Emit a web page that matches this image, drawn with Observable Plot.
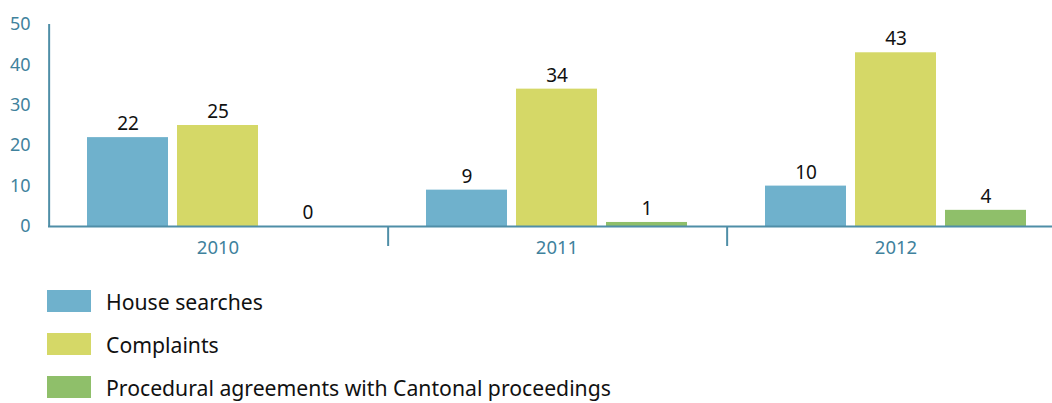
<!DOCTYPE html>
<html>
<head>
<meta charset="utf-8">
<script src="https://cdn.jsdelivr.net/npm/d3@7"></script>
<script src="https://cdn.jsdelivr.net/npm/@observablehq/plot@0.6"></script>
<style>
  body { margin: 0; background: #fff; font-family: "Noto Sans", sans-serif; }
  #wrap { width: 1052px; overflow: hidden; }
  #chart svg { max-width: none !important; width: 1065px !important; height: 266px !important; display: block; }
  #legend { margin-top: 24px; margin-left: 47px; }
  .item { display: flex; align-items: center; height: 22px; margin-bottom: 21px; font-size: 21.2px; color: #111; }
  .sw { width: 44px; height: 22px; margin-right: 15px; flex: none; }
</style>
</head>
<body>
<div id="wrap"><div id="chart"></div></div>
<div id="legend"></div>
<script>
const years = ["2010", "2011", "2012"];
const series = ["House searches", "Complaints", "Procedural agreements with Cantonal proceedings"];
const houseSearches = [22, 9, 10];
const complaints = [25, 34, 43];
const procedural = [0, 1, 4];
const colors = ["#6fb1cc", "#d5d867", "#8fbf6a"];
const yTicks = [0, 10, 20, 30, 40, 50];

const seriesValues = [houseSearches, complaints, procedural];
const data = [];
years.forEach((yr, i) => series.forEach((s, j) => data.push({year: yr, series: s, value: seriesValues[j][i]})));

const axisColor = "#4f8ea7";
const textColor = "#3f829d";
const W = 1065, mL = 48, mR = 0, mT = 24, mB = 40, H = 266;
const pi = 0.1, po = 0.42;
const facetW = (W - mL - mR) / years.length;
const step = facetW / (series.length - pi + 2 * po);
const bw = step * (1 - pi);
const edgeOff = po * step + bw / 2;
const plotH = H - mT - mB;

const chart = Plot.plot({
  width: W, height: H,
  marginLeft: mL, marginRight: mR, marginTop: mT, marginBottom: mB,
  style: {fontFamily: "Noto Sans, sans-serif", background: "#fff"},
  fx: {domain: years, padding: 0, axis: null},
  x: {domain: series, paddingInner: pi, paddingOuter: po, axis: null},
  y: {domain: [0, 50], axis: null},
  color: {domain: series, range: colors},
  marks: [
    Plot.barY(data, {fx: "year", x: "series", y: "value", fill: "series"}),
    Plot.ruleY([0], {stroke: axisColor, strokeWidth: 2}),
    Plot.ruleX([{year: years[0]}], {fx: "year", x: () => series[0], dx: -edgeOff, stroke: axisColor, strokeWidth: 2}),
    Plot.ruleX(years.slice(1).map(y => ({year: y})), {fx: "year", x: () => series[0], dx: -edgeOff, stroke: axisColor, strokeWidth: 2, insetTop: plotH, insetBottom: -20}),
    Plot.text(data, {fx: "year", x: "series", y: "value", text: d => String(d.value), dy: -13.5, fontSize: 19, fill: "#111"}),
    Plot.axisY({ticks: yTicks, tickSize: 0, tickPadding: 18, fontSize: 18, color: textColor, label: null}),
    Plot.axisFx({anchor: "bottom", tickSize: 0, tickPadding: 14, fontSize: 18.5, color: textColor, label: null})
  ]
});
document.getElementById("chart").appendChild(chart);

const legend = document.getElementById("legend");
series.forEach((s, i) => {
  const it = document.createElement("div");
  it.className = "item";
  const sw = document.createElement("div");
  sw.className = "sw";
  sw.style.background = colors[i];
  const t = document.createElement("span");
  t.textContent = s;
  it.appendChild(sw); it.appendChild(t);
  legend.appendChild(it);
});
</script>
</body>
</html>
